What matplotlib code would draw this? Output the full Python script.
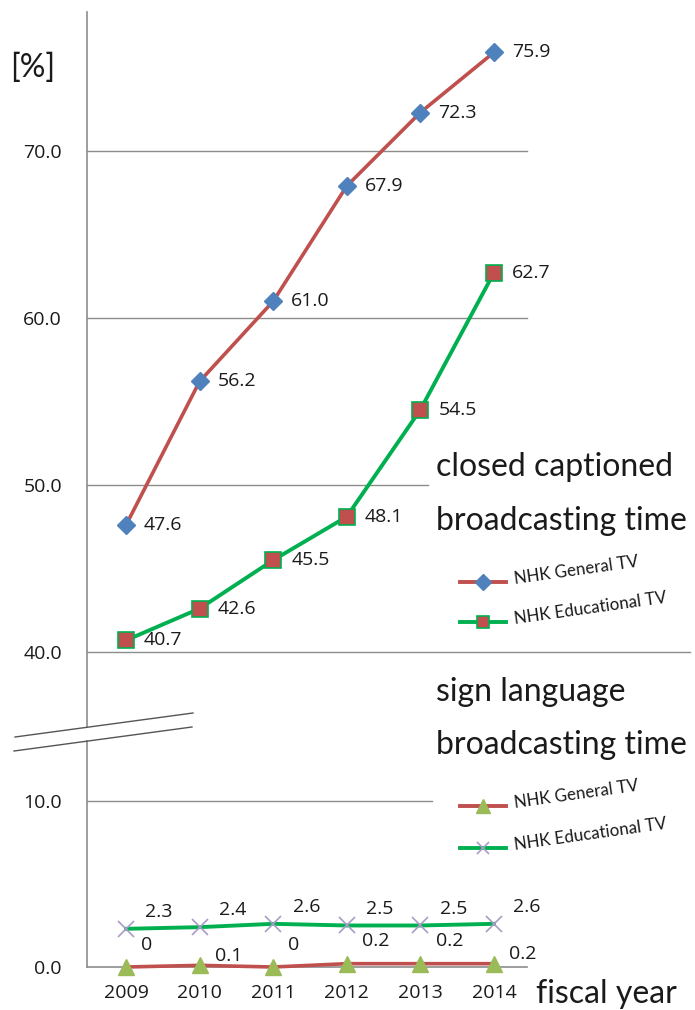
import matplotlib
matplotlib.use("Agg")
import matplotlib.pyplot as plt
from matplotlib.lines import Line2D

years = ["2009", "2010", "2011", "2012", "2013", "2014"]
cc_general = [47.6, 56.2, 61.0, 67.9, 72.3, 75.9]
cc_educational = [40.7, 42.6, 45.5, 48.1, 54.5, 62.7]
sl_general = [0, 0.1, 0, 0.2, 0.2, 0.2]
sl_educational = [2.3, 2.4, 2.6, 2.5, 2.5, 2.6]
sl_general_labels = ["0", "0.1", "0", "0.2", "0.2", "0.2"]
upper_ticks = [40, 50, 60, 70]
lower_ticks = [0, 10]

RED = "#C0504D"
BLUE = "#4F81BD"
GREEN = "#00B050"
OLIVE = "#9BBB59"
PURPLE = "#A99BC8"
GRID = "#8C8C8C"
TXT = "#1A1A1A"

W, H = 695, 1010
fig = plt.figure(figsize=(W / 100, H / 100), dpi=100)
numfont = "Open Sans"
bigfont = "Lato"
NUMSIZE = 14
BIGSIZE = 23

def fx(px):
    return px / W

def fy(py):
    return 1 - py / H

x = list(range(len(years)))
ax1 = fig.add_axes([fx(87), fy(727), fx(527) - fx(87), fy(12) - fy(727)])
ax2 = fig.add_axes([fx(87), fy(967), fx(527) - fx(87), fy(741) - fy(967)])

for ax in (ax1, ax2):
    ax.set_xlim(-0.53, 5.45)
    for s in ("top", "right"):
        ax.spines[s].set_visible(False)
    ax.spines["left"].set_color(GRID)
    ax.spines["left"].set_linewidth(1.2)
    ax.tick_params(length=0)
    ax.set_facecolor("none")

ax1.spines["bottom"].set_visible(False)
ax2.spines["bottom"].set_color(GRID)
ax2.spines["bottom"].set_linewidth(1.2)

ax1.set_ylim(35.51, 78.32)
ax2.set_ylim(0, 13.61)

ax1.set_xticks([])
ax1.set_yticks(upper_ticks, [f"{v:.1f}" for v in upper_ticks])
ax2.set_yticks(lower_ticks, [f"{v:.1f}" for v in lower_ticks])
ax2.set_xticks(x, years)
for ax in (ax1, ax2):
    ax.tick_params(axis="y", pad=18, labelsize=NUMSIZE, labelcolor=TXT)
    for lab in ax.get_yticklabels():
        lab.set_fontfamily(numfont)
ax2.tick_params(axis="x", pad=12, labelsize=NUMSIZE, labelcolor=TXT)
for lab in ax2.get_xticklabels():
    lab.set_fontfamily(numfont)

# gridlines with reference extents
grid_ext = {70: 1.0, 60: 1.0, 50: 0.775, 40: 1.37}
for v, xm in grid_ext.items():
    ax1.axhline(v, xmin=0, xmax=xm, color=GRID, lw=1.0, clip_on=False, zorder=1)
ax2.axhline(10, xmin=0, xmax=0.784, color=GRID, lw=1.0, zorder=1)

# series
ax1.plot(x, cc_general, color=RED, lw=2.6, marker="D", ms=9, mfc=BLUE, mec=BLUE, zorder=3)
ax1.plot(x, cc_educational, color=GREEN, lw=2.8, marker="s", ms=11, mfc=RED, mec=GREEN, mew=1.2, zorder=3)
ax2.plot(x, sl_educational, color=GREEN, lw=2.8, marker="x", ms=11, mec=PURPLE, mew=1.2, zorder=3, clip_on=False)
ax2.plot(x, sl_general, color=RED, lw=2.6, marker="^", ms=12, mfc=OLIVE, mec=OLIVE, zorder=4, clip_on=False)

for xi, v in zip(x, cc_general):
    ax1.annotate(f"{v:.1f}", (xi, v), xytext=(13, 0), textcoords="offset points",
                 ha="left", va="center", fontsize=NUMSIZE, color=TXT, family=numfont)
for xi, v in zip(x, cc_educational):
    ax1.annotate(f"{v:.1f}", (xi, v), xytext=(13, 0), textcoords="offset points",
                 ha="left", va="center", fontsize=NUMSIZE, color=TXT, family=numfont)
for xi, v in zip(x, sl_educational):
    ax2.annotate(f"{v:.1f}", (xi, v), xytext=(14, 12), textcoords="offset points",
                 ha="left", va="center", fontsize=NUMSIZE, color=TXT, family=numfont)
sl_dy = [16, 7, 16, 16, 16, 7]
for xi, v, lab, dy in zip(x, sl_general, sl_general_labels, sl_dy):
    ax2.annotate(lab, (xi, v), xytext=(11, dy), textcoords="offset points",
                 ha="left", va="center", fontsize=NUMSIZE, color=TXT, family=numfont)

# break marks
for (x0, y0, x1, y1) in [(15, 737, 193, 713), (14, 751, 192, 727)]:
    fig.add_artist(Line2D([fx(x0), fx(x1)], [fy(y0), fy(y1)], color="#555555", lw=1.0))

# texts
fig.text(fx(33), fy(68), "[%]", ha="center", va="center", fontsize=BIGSIZE, family=bigfont, color=TXT)
fig.text(fx(436), fy(467), "closed captioned", ha="left", va="center", fontsize=BIGSIZE, family=bigfont, color=TXT)
fig.text(fx(436), fy(521), "broadcasting time", ha="left", va="center", fontsize=BIGSIZE, family=bigfont, color=TXT)
fig.text(fx(436), fy(692), "sign language", ha="left", va="center", fontsize=BIGSIZE, family=bigfont, color=TXT)
fig.text(fx(436), fy(745), "broadcasting time", ha="left", va="center", fontsize=BIGSIZE, family=bigfont, color=TXT)
fig.text(fx(536), fy(994), "fiscal year", ha="left", va="center", fontsize=BIGSIZE, family=bigfont, color=TXT)

# legends (manual, slightly rotated text)
def legend_item(ypx, color, marker, mfc, mec, ms, mew, label):
    fig.add_artist(Line2D([fx(460), fx(506)], [fy(ypx), fy(ypx)], color=color, lw=2.8))
    fig.add_artist(Line2D([fx(483)], [fy(ypx)], marker=marker, ms=ms, mfc=mfc, mec=mec, mew=mew, lw=0))
    fig.text(fx(515), fy(ypx + 5), label, ha="left", va="bottom", fontsize=12.2, family=bigfont,
             color=TXT, rotation=8, rotation_mode="anchor")

legend_item(582, RED, "D", BLUE, BLUE, 8, 1, "NHK General TV")
legend_item(622, GREEN, "s", RED, GREEN, 9, 1.2, "NHK Educational TV")
legend_item(806, RED, "^", OLIVE, OLIVE, 10, 1, "NHK General TV")
legend_item(848, GREEN, "x", PURPLE, PURPLE, 9, 1.2, "NHK Educational TV")

fig.savefig("out.png", dpi=100)
